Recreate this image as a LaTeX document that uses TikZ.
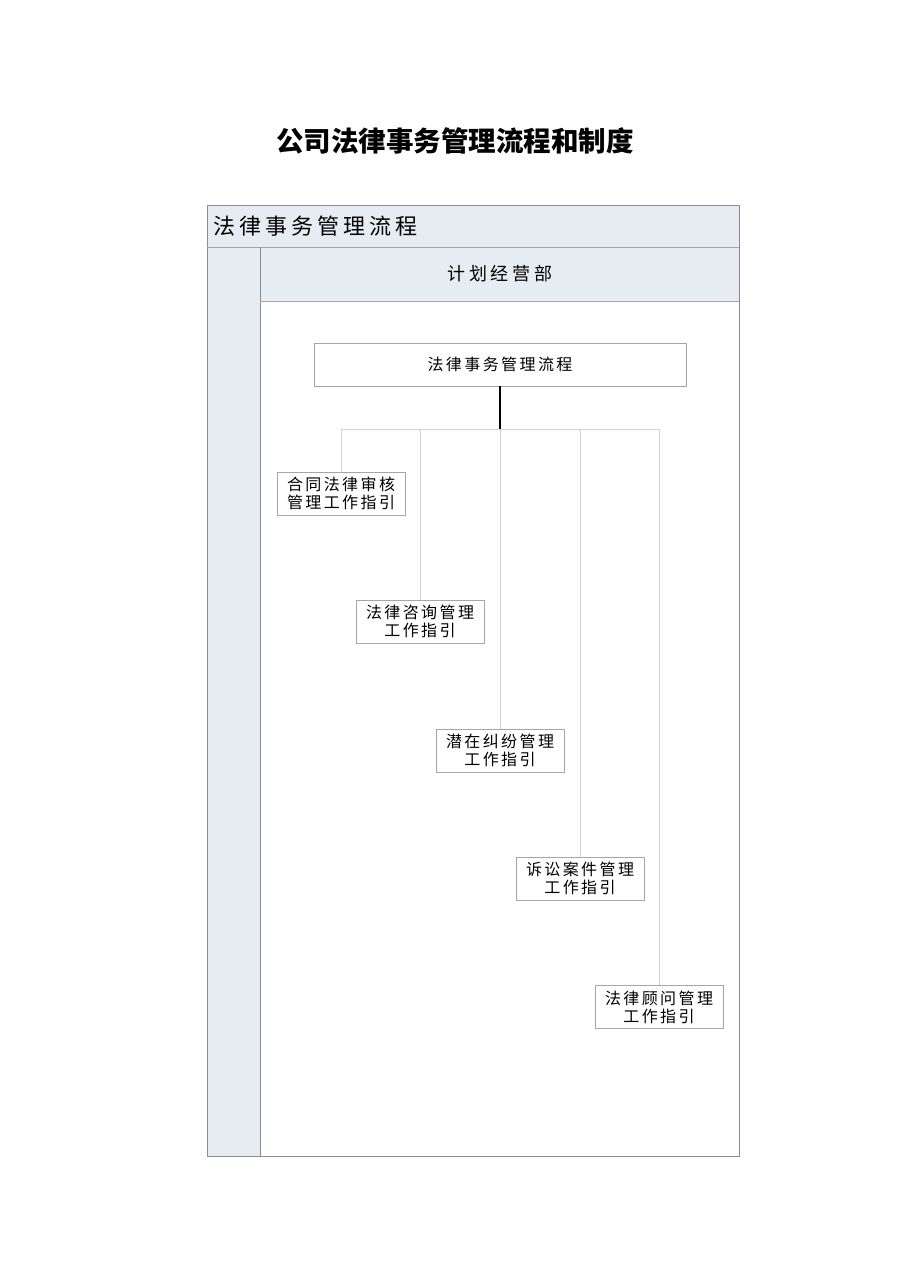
\documentclass[tikz,border=0pt]{standalone}
\usepackage{fontspec}
\usepackage{tikz}
\newfontfamily\cjk{Noto Sans CJK SC}
\newfontfamily\cjkhead[LetterSpace=18]{Noto Sans CJK SC}
\newfontfamily\cjklane[LetterSpace=22]{Noto Sans CJK SC}
\newfontfamily\cjkbox[LetterSpace=15]{Noto Sans CJK SC}
\definecolor{lanefill}{HTML}{E7ECF3}
\definecolor{framegray}{HTML}{8C8C8C}
\definecolor{boxgray}{HTML}{A6A6A6}
\definecolor{linkgray}{HTML}{D2D2D2}

\begin{document}
\begin{tikzpicture}[x=1pt,y=-1pt,
    guide/.style={draw=boxgray,fill=white,line width=0.8pt,minimum width=128pt,minimum height=43pt,
      inner sep=0pt,align=center,font={\cjkbox\fontsize{16}{18}\selectfont}},
    link/.style={draw=linkgray,line width=1pt}]
  \useasboundingbox (0,0) rectangle (909,1286);
  % title
  \node (title) at (455,141) {\cjk\bfseries\fontsize{27.5}{32}\selectfont 公司法律事务管理流程和制度};
  % pool and lane
  \fill[lanefill] (207,205) rectangle (739,1156);
  \fill[white] (260,301) rectangle (739,1156);
  \draw[framegray,line width=0.8pt] (207,205) rectangle (739,1156);
  \draw[boxgray,line width=0.8pt] (207,247) -- (739,247);
  \draw[framegray,line width=0.8pt] (260,247) -- (260,1156);
  \draw[boxgray,line width=0.8pt] (260,301) -- (739,301);
  \node[anchor=west] (pool) at (210,226) {\cjkhead\fontsize{22}{26}\selectfont 法律事务管理流程};
  \node (lane) at (500,274) {\cjklane\fontsize{18}{22}\selectfont 计划经营部};
  % top box
  \node[guide,minimum width=372pt] (flow) at (500,364.5) {法律事务管理流程};
  \coordinate (bus) at (500,429);
  \coordinate (busl) at (341,429);
  \coordinate (busr) at (659,429);
  \draw[black,line width=1.2pt] (flow.south) -- (bus);
  \draw[link] (busl) -- (busr);
  % guides
  \node[guide] (hetong) at (341,493.5) {合同法律审核\\管理工作指引};
  \node[guide] (zixun) at (420,621.5) {法律咨询管理\\工作指引};
  \node[guide] (jiufen) at (500,750.5) {潜在纠纷管理\\工作指引};
  \node[guide] (susong) at (580,878.5) {诉讼案件管理\\工作指引};
  \node[guide] (guwen) at (659,1007) {法律顾问管理\\工作指引};
  \foreach \n in {hetong,zixun,jiufen,susong,guwen}
    \draw[link] (\n.north |- bus) -- (\n.north);
\end{tikzpicture}
\end{document}
